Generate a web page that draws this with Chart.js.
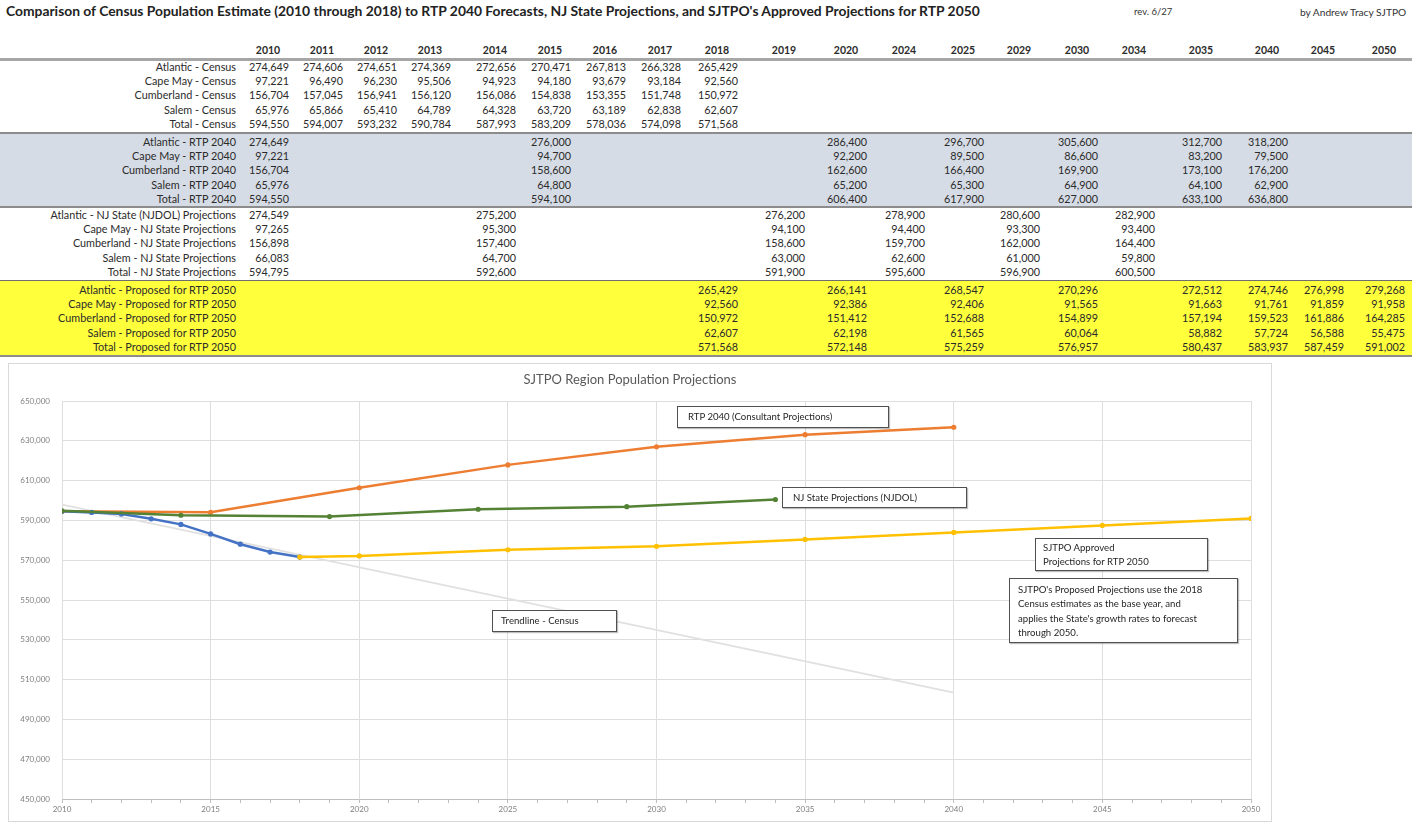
<!DOCTYPE html>
<html><head><meta charset="utf-8">
<script src="https://cdn.jsdelivr.net/npm/chart.js@4.4.1/dist/chart.umd.min.js"></script>
<style>
html,body{margin:0;padding:0;background:#fff;}
body{width:1421px;height:825px;position:relative;overflow:hidden;font-family:Lato,"Open Sans",sans-serif;color:#2b2b2b;}
.abs{position:absolute;white-space:nowrap;}
#title{left:6px;top:2px;font-weight:700;font-size:13.85px;color:#222;}
#rev{left:1134px;top:6px;font-size:9.5px;color:#333;}
#by{left:1300px;top:6px;font-size:10.2px;color:#333;}
.cell{font-size:10.8px;line-height:14px;height:14px;}
.hdr{font-size:10.5px;font-weight:700;line-height:14px;height:14px;text-align:center;}
.band{position:absolute;left:0;width:1412px;}
.rule{position:absolute;left:0;width:1412px;}
#chartBox{position:absolute;left:8px;top:363px;width:1262px;height:457px;border:1px solid #D9D9D9;}
.note{position:absolute;border:1px solid #505050;background:#fff;font-size:9.6px;color:#262626;box-sizing:border-box;white-space:nowrap;box-shadow:1px 1px 1px rgba(0,0,0,0.25);}
</style></head><body>
<div id="title" class="abs">Comparison of Census Population Estimate (2010 through 2018) to RTP 2040 Forecasts, NJ State Projections, and SJTPO's Approved Projections for RTP 2050</div>
<div id="rev" class="abs">rev. 6/27</div>
<div id="by" class="abs">by Andrew Tracy SJTPO</div>
<div id="table"></div>
<div id="chartBox"><canvas id="c"></canvas></div>
<div class="note" style="left:677px;top:406px;width:212px;height:22px;line-height:20px;padding-left:10px;">RTP 2040 (Consultant Projections)</div>
<div class="note" style="left:782px;top:487px;width:185px;height:21px;line-height:19px;padding-left:10px;">NJ State Projections (NJDOL)</div>
<div class="note" style="left:1035px;top:538px;width:173px;height:33px;line-height:14px;padding:2px 0 0 7px;">SJTPO Approved<br>Projections for RTP 2050</div>
<div class="note" style="left:1009px;top:578px;width:229px;height:65px;line-height:14.3px;padding:4px 0 0 8px;">SJTPO's Proposed Projections use the 2018<br>Census estimates as the base year, and<br>applies the State's growth rates to forecast<br>through 2050.</div>
<div class="note" style="left:492px;top:610px;width:125px;height:22px;line-height:20px;padding-left:8px;">Trendline - Census</div>
<script>
// ---------- DATA ----------
const tableYears = [2010,2011,2012,2013,2014,2015,2016,2017,2018,2019,2020,2024,2025,2029,2030,2034,2035,2040,2045,2050];

const censusYears = [2010,2011,2012,2013,2014,2015,2016,2017,2018];
const atlanticCensus   = [274649,274606,274651,274369,272656,270471,267813,266328,265429];
const capeMayCensus    = [97221,96490,96230,95506,94923,94180,93679,93184,92560];
const cumberlandCensus = [156704,157045,156941,156120,156086,154838,153355,151748,150972];
const salemCensus      = [65976,65866,65410,64789,64328,63720,63189,62838,62607];
const totalCensus      = [594550,594007,593232,590784,587993,583209,578036,574098,571568];

const rtpYears = [2010,2015,2020,2025,2030,2035,2040];
const atlanticRTP   = [274649,276000,286400,296700,305600,312700,318200];
const capeMayRTP    = [97221,94700,92200,89500,86600,83200,79500];
const cumberlandRTP = [156704,158600,162600,166400,169900,173100,176200];
const salemRTP      = [65976,64800,65200,65300,64900,64100,62900];
const totalRTP      = [594550,594100,606400,617900,627000,633100,636800];

const njYears = [2010,2014,2019,2024,2029,2034];
const atlanticNJ   = [274549,275200,276200,278900,280600,282900];
const capeMayNJ    = [97265,95300,94100,94400,93300,93400];
const cumberlandNJ = [156898,157400,158600,159700,162000,164400];
const salemNJ      = [66083,64700,63000,62600,61000,59800];
const totalNJ      = [594795,592600,591900,595600,596900,600500];

const proposedYears = [2018,2020,2025,2030,2035,2040,2045,2050];
const atlanticProposed   = [265429,266141,268547,270296,272512,274746,276998,279268];
const capeMayProposed    = [92560,92386,92406,91565,91663,91761,91859,91958];
const cumberlandProposed = [150972,151412,152688,154899,157194,159523,161886,164285];
const salemProposed      = [62607,62198,61565,60064,58882,57724,56588,55475];
const totalProposed      = [571568,572148,575259,576957,580437,583937,587459,591002];

// trendline (straight line through census)
const trendYears  = [2010,2040];
const trendValues = [597900,503500];

const yTickMin = 450000, yTickMax = 650000, yTickStep = 20000;
const xTickMin = 2010, xTickMax = 2050;

// ---------- TABLE LAYOUT ----------
const colRight = [289,343,397,451,516,571,626,681,738,805,867,925,984,1040,1098,1155,1222,1288,1344,1405];
const groups = [
  {years:censusYears, top:67, rows:[
    ['Atlantic - Census',atlanticCensus],['Cape May - Census',capeMayCensus],['Cumberland - Census',cumberlandCensus],
    ['Salem - Census',salemCensus],['Total - Census',totalCensus]]},
  {years:rtpYears, top:142, rows:[
    ['Atlantic - RTP 2040',atlanticRTP],['Cape May - RTP 2040',capeMayRTP],['Cumberland - RTP 2040',cumberlandRTP],
    ['Salem - RTP 2040',salemRTP],['Total - RTP 2040',totalRTP]]},
  {years:njYears, top:215, rows:[
    ['Atlantic - NJ State (NJDOL) Projections',atlanticNJ],['Cape May - NJ State Projections',capeMayNJ],
    ['Cumberland - NJ State Projections',cumberlandNJ],['Salem - NJ State Projections',salemNJ],['Total - NJ State Projections',totalNJ]]},
  {years:proposedYears, top:290, rows:[
    ['Atlantic - Proposed for RTP 2050',atlanticProposed],['Cape May - Proposed for RTP 2050',capeMayProposed],
    ['Cumberland - Proposed for RTP 2050',cumberlandProposed],['Salem - Proposed for RTP 2050',salemProposed],
    ['Total - Proposed for RTP 2050',totalProposed]]}
];
const rowStep = 14.2;
const T = document.getElementById('table');
function add(html, style, cls){ const d=document.createElement('div'); d.className='abs '+(cls||''); d.style.cssText=style; d.textContent=html; T.appendChild(d); return d;}
function band(top,h,color){ const d=document.createElement('div'); d.className='band'; d.style.cssText=`top:${top}px;height:${h}px;background:${color};`; T.appendChild(d);}
function rule(top,h,color){ const d=document.createElement('div'); d.className='rule'; d.style.cssText=`top:${top}px;height:${h}px;background:${color};`; T.appendChild(d);}
band(133,74,'#D6DCE5');
band(281,75,'#FFFF3C');
rule(58,3,'#A6A6A6');
rule(132,2,'#8C8C8C');
rule(206,2,'#8C8C8C');
rule(280,1,'#6F6F6F');
rule(355,2,'#8C8C8C');
const fmt = v => v.toLocaleString('en-US');
tableYears.forEach((y,i)=>{ add(String(y), `left:${colRight[i]-46}px;top:${43}px;width:50px;`, 'hdr'); });
groups.forEach(g=>{
  g.rows.forEach((r,ri)=>{
    const yc = g.top + ri*rowStep;
    add(r[0], `left:0px;top:${yc-7}px;width:236px;text-align:right;`, 'cell');
    r[1].forEach((v,k)=>{
      const ci = tableYears.indexOf(g.years[k]);
      add(fmt(v), `left:${colRight[ci]-60}px;top:${yc-7}px;width:60px;text-align:right;`, 'cell');
    });
  });
});

// ---------- CHART ----------
const pts = (xs,ys) => xs.map((x,i)=>({x:x,y:ys[i]}));
Chart.defaults.font.family = 'Lato, "Open Sans", sans-serif';
const lineDs = (label,data,color,order)=>({label,data,borderColor:color,backgroundColor:color,borderWidth:2.5,
  pointRadius:2.6,pointHoverRadius:2.6,pointBorderWidth:0,pointBackgroundColor:color,tension:0,order});
new Chart(document.getElementById('c'),{
  type:'line',
  data:{datasets:[
    lineDs('NJ State Projections (NJDOL)',pts(njYears,totalNJ),'#548235',1),
    lineDs('SJTPO Approved Projections for RTP 2050',pts(proposedYears,totalProposed),'#FFC000',2),
    lineDs('Census',pts(censusYears,totalCensus),'#4472C4',3),
    lineDs('RTP 2040 (Consultant Projections)',pts(rtpYears,totalRTP),'#ED7D31',4),
    {label:'Trendline - Census',data:pts(trendYears,trendValues),borderColor:'#E0E0E0',borderWidth:1.8,pointRadius:0,order:5}
  ]},
  options:{
    responsive:true,maintainAspectRatio:false,animation:false,
    layout:{padding:{top:1.4,left:0,right:20,bottom:0}},
    plugins:{
      legend:{display:false},tooltip:{enabled:false},
      title:{display:true,text:'SJTPO Region Population Projections',color:'#595959',
        font:{size:13,weight:'normal'},padding:{top:7,bottom:13}}
    },
    scales:{
      x:{type:'linear',min:xTickMin,max:xTickMax,
        ticks:{stepSize:1,autoSkip:false,maxRotation:0,color:'#7F7F7F',font:{size:8},padding:2,
          callback:v=> (v%5===0)? String(v):''},
        grid:{color:c=> (c.tick && c.tick.value%5===0)?'#DEDEDE':'rgba(0,0,0,0)',tickColor:'#BFBFBF',tickLength:4,drawTicks:true},
        border:{color:'#BFBFBF'},
        afterFit:s=>{s.height=22;}
      },
      y:{min:yTickMin,max:yTickMax,
        ticks:{stepSize:yTickStep,color:'#7F7F7F',font:{size:8},padding:12,callback:v=>fmt(v)},
        grid:{color:'#DEDEDE',drawTicks:false},
        border:{display:false},
        afterFit:s=>{s.width=53;}
      }
    }
  }
});
</script>
</body></html>
